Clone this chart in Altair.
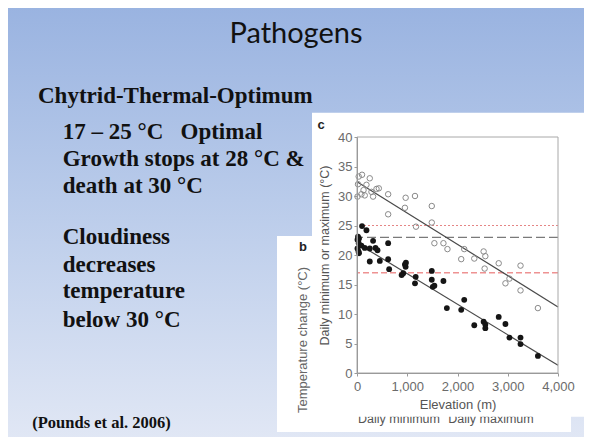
import altair as alt
import pandas as pd

# ---- data ----
max_elev = [34, 100, 254, 20, 188, 130, 10, 88, 154, 288, 320, 388, 434, 620, 620, 954, 968, 1154, 1174,
            1488, 1488, 1540, 1720, 1800, 2074, 2134, 2334, 2520, 2554, 2540, 2820, 3254, 2954, 3034, 3254, 3600]
max_temp = [33.3, 33.6, 33.0, 32.0, 31.9, 31.0, 29.9, 30.3, 30.1, 30.7, 29.9, 31.2, 31.3, 30.3, 26.9, 28.0, 29.7, 30.0, 24.8,
            28.3, 25.5, 22.0, 22.0, 21.0, 19.3, 21.0, 19.4, 20.6, 19.8, 17.7, 18.6, 18.2, 15.2, 16.0, 14.0, 11.0]

min_elev = [100, 188, 20, 40, 10, 34, 88, 10, 30, 40, 154, 254, 320, 368, 408, 254, 454, 620, 620, 640,
            954, 968, 974, 920, 888, 1168, 1154, 1488, 1488, 1508, 1540, 1720, 1788, 2074, 2134, 2334,
            2520, 2554, 2554, 2820, 2954, 3034, 3254, 3254, 3600]
min_temp = [24.9, 24.2, 23.1, 22.8, 22.6, 22.0, 21.6, 21.1, 20.6, 20.3, 21.2, 21.1, 22.4, 21.2, 20.8, 18.9, 19.0, 22.0, 19.3, 17.6,
            18.4, 18.0, 18.7, 16.9, 16.6, 16.3, 15.2, 17.3, 15.8, 14.6, 14.8, 15.6, 11.0, 10.7, 12.4, 8.1,
            8.7, 8.2, 7.6, 9.5, 8.3, 6.0, 6.0, 4.9, 2.9]

fit_elev = [0, 4000]
max_fit = [32.4, 11.2]
min_fit = [22.0, 1.3]

upper_optimum = [25]
mid_line = [23]
lower_optimum = [17]

x_ticks = [0, 1000, 2000, 3000, 4000]
y_ticks = [0, 5, 10, 15, 20, 25, 30, 35, 40]

# ---- tables ----
max_df = pd.DataFrame({"elev": max_elev, "temp": max_temp})
min_df = pd.DataFrame({"elev": min_elev, "temp": min_temp})
maxfit_df = pd.DataFrame({"elev": fit_elev, "temp": max_fit})
minfit_df = pd.DataFrame({"elev": fit_elev, "temp": min_fit})

W, H = 201, 236
xs = alt.Scale(domain=[0, 4000], nice=False, zero=False)
ys = alt.Scale(domain=[0, 40], nice=False)

sans = "Liberation Sans"
serif = "Liberation Serif"

x_axis = alt.Axis(values=x_ticks, format=",.0f", title="Elevation (m)", grid=False,
                  domainColor="#9a9a9a", tickColor="#9a9a9a", tickSize=3,
                  labelFont=sans, labelFontSize=13, labelColor="#6b6b6b", labelPadding=4,
                  titleFont=sans, titleFontSize=13, titleFontWeight="normal", titleColor="#555555",
                  titlePadding=5, zindex=1, labelFlush=False)
y_axis = alt.Axis(values=y_ticks, format=".0f", title="Daily minimum or maximum (°C)", grid=False,
                  domainColor="#9a9a9a", tickColor="#9a9a9a", tickSize=3,
                  labelFont=sans, labelFontSize=13, labelColor="#6b6b6b", labelPadding=2,
                  titleFont=sans, titleFontSize=12.5, titleFontWeight="normal", titleColor="#555555",
                  titlePadding=6, zindex=1, labelFlush=False)

X = alt.X("elev:Q", scale=xs, axis=x_axis)
Y = alt.Y("temp:Q", scale=ys, axis=y_axis)

one = alt.Data(values=[{}])


def box(x1, x2, y1, y2, **kw):
    return alt.Chart(one).mark_rect(**kw).encode(
        x=alt.value(x1), x2=alt.value(x2), y=alt.value(y1), y2=alt.value(y2))


def txt(text, x, y, **kw):
    return alt.Chart(one).mark_text(**kw).encode(
        x=alt.value(x), y=alt.value(y), text=alt.value(text))


grad = alt.LinearGradient(
    gradient="linear", x1=0, y1=0, x2=0, y2=1,
    stops=[alt.GradientStop(color="#98b2e0", offset=0),
           alt.GradientStop(color="#b9cbea", offset=0.45),
           alt.GradientStop(color="#e2e8f5", offset=1)])

bg = box(-360, 240, -140, 310, color=grad)
panel_b = box(-80, 214, 99, 295, color="white")
panel_c = box(-45, 228, -24.3, 279.7, color="white")

legend_min = txt("Daily minimum", 42, 286, font=sans, fontSize=12.5, color="#555555", align="center", baseline="alphabetic")
legend_max = txt("Daily maximum", 134, 286, font=sans, fontSize=12.5, color="#555555", align="center", baseline="alphabetic")

lab_c = txt("c", -36, -12, font=sans, fontSize=13, fontWeight="bold", color="#222222", align="center", baseline="middle")
lab_b = txt("b", -54, 110, font=sans, fontSize=13, fontWeight="bold", color="#222222", align="center", baseline="middle")
temp_change = txt("Temperature change (°C)", -54, 203, font=sans, fontSize=13, color="#666666",
                  align="center", baseline="middle", angle=270)

title = txt("Pathogens", -61, -94, font="Lato", fontSize=29, color="#111111", align="center", baseline="alphabetic")

body_kw = dict(font=serif, fontSize=23, fontWeight="bold", color="#111111", align="left", baseline="alphabetic")
head = txt("Chytrid-Thermal-Optimum", -319, -33.7, **body_kw)
lines = [
    ("17 – 25 °C\u00a0\u00a0\u00a0Optimal", 2.3),
    ("Growth stops at 28 °C &", 29),
    ("death at 30 °C", 56.3),
    ("Cloudiness", 107.3),
    ("decreases", 134.7),
    ("temperature", 161.3),
    ("below 30 °C", 190),
]
body = [txt(t, -294.3, yy, **body_kw) for t, yy in lines]
cite = txt("(Pounds et al. 2006)", -324.7, 290.7, font=serif, fontSize=16.5, fontWeight="bold",
           color="#111111", align="left", baseline="alphabetic")

rule_25 = alt.Chart(pd.DataFrame({"temp": upper_optimum})).mark_rule(
    color="#e58585", strokeWidth=1, strokeDash=[2, 2]).encode(y=Y)
rule_23 = alt.Chart(pd.DataFrame({"temp": mid_line})).mark_rule(
    color="#7a7a7a", strokeWidth=1.2, strokeDash=[9, 4]).encode(y=Y)
rule_17 = alt.Chart(pd.DataFrame({"temp": lower_optimum})).mark_rule(
    color="#ee9292", strokeWidth=1.6, strokeDash=[6, 3]).encode(y=Y)

fit_max = alt.Chart(maxfit_df).mark_line(color="#4a4a4a", strokeWidth=1.2).encode(x=X, y=Y)
fit_min = alt.Chart(minfit_df).mark_line(color="#4a4a4a", strokeWidth=1.2).encode(x=X, y=Y)

pts_max = alt.Chart(max_df).mark_point(shape="circle", filled=False, color="#8a8a8a",
                                       size=30, strokeWidth=1, opacity=1).encode(x=X, y=Y)
pts_min = alt.Chart(min_df).mark_point(shape="circle", filled=True, color="#151515",
                                       size=34, opacity=1).encode(x=X, y=Y)

frame = box(0, W, 0, H, fill=None, stroke="#a8a8a8", strokeWidth=1, fillOpacity=0)

chart = alt.layer(
    bg, panel_b, legend_min, legend_max, panel_c,
    title, head, *body, cite,
    lab_c, lab_b, temp_change,
    rule_25, rule_23, rule_17,
    fit_max, fit_min, pts_max, pts_min, frame,
).properties(
    width=W, height=H,
    padding={"left": 349, "top": 129, "right": 26, "bottom": 64},
    autosize="none",
).configure_view(strokeWidth=0)

chart.save("out.html", embed_options={"renderer": "svg", "actions": False})
